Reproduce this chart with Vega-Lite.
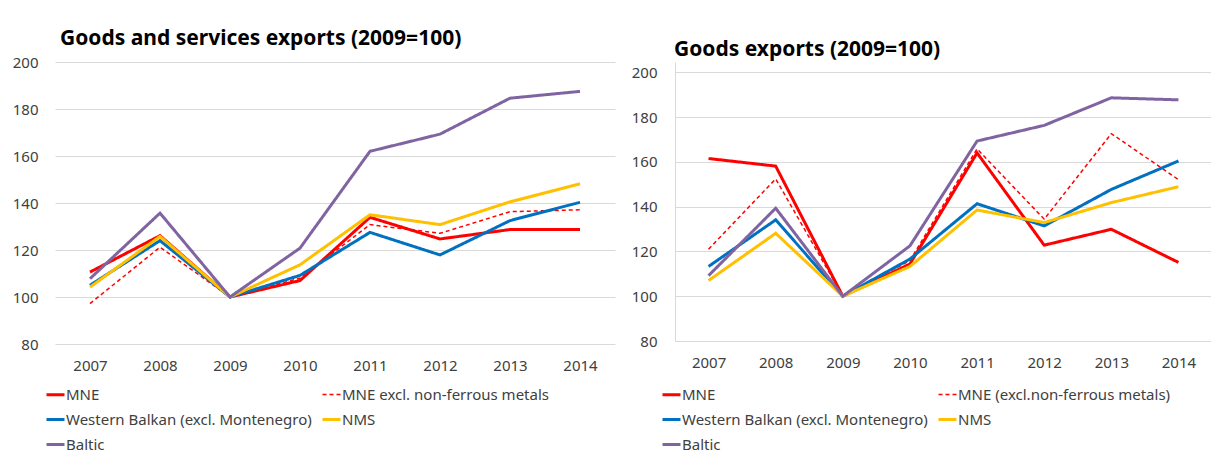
{
  "$schema": "https://vega.github.io/schema/vega-lite/v6.json",
  "background": "white",
  "padding": {"left": 12, "top": 28, "right": 0, "bottom": 0},
  "spacing": 16,
  "config": {
    "font": "Noto Sans",
    "view": {"stroke": null},
    "axis": {"labelFont": "Noto Sans", "labelFontSize": 15, "labelColor": "#404040", "ticks": false, "domain": false, "title": null, "gridColor": "#D9D9D9", "gridWidth": 1},
    "legend": {"labelFont": "Noto Sans", "labelFontSize": 15, "labelColor": "#404040", "labelLimit": 500, "title": null, "symbolType": "stroke", "symbolSize": 324, "rowPadding": 6, "columnPadding": 4, "labelOffset": 0, "columns": 2, "orient": "none"},
    "title": {"font": "Noto Sans", "fontSize": 21, "fontWeight": "bold", "color": "#000000", "anchor": "start", "frame": "group"}
  },
  "datasets": {
    "gs": [
      {"series": "MNE", "year": "2007", "value": 110.6},
      {"series": "MNE", "year": "2008", "value": 126.1},
      {"series": "MNE", "year": "2009", "value": 100},
      {"series": "MNE", "year": "2010", "value": 107},
      {"series": "MNE", "year": "2011", "value": 133.9},
      {"series": "MNE", "year": "2012", "value": 124.7},
      {"series": "MNE", "year": "2013", "value": 128.7},
      {"series": "MNE", "year": "2014", "value": 128.7},
      {"series": "MNE excl. non-ferrous metals", "year": "2007", "value": 97.2},
      {"series": "MNE excl. non-ferrous metals", "year": "2008", "value": 121.2},
      {"series": "MNE excl. non-ferrous metals", "year": "2009", "value": 100},
      {"series": "MNE excl. non-ferrous metals", "year": "2010", "value": 108},
      {"series": "MNE excl. non-ferrous metals", "year": "2011", "value": 130.8},
      {"series": "MNE excl. non-ferrous metals", "year": "2012", "value": 127.1},
      {"series": "MNE excl. non-ferrous metals", "year": "2013", "value": 136.3},
      {"series": "MNE excl. non-ferrous metals", "year": "2014", "value": 137.1},
      {"series": "Western Balkan (excl. Montenegro)", "year": "2007", "value": 105},
      {"series": "Western Balkan (excl. Montenegro)", "year": "2008", "value": 124},
      {"series": "Western Balkan (excl. Montenegro)", "year": "2009", "value": 100},
      {"series": "Western Balkan (excl. Montenegro)", "year": "2010", "value": 109.2},
      {"series": "Western Balkan (excl. Montenegro)", "year": "2011", "value": 127.5},
      {"series": "Western Balkan (excl. Montenegro)", "year": "2012", "value": 117.9},
      {"series": "Western Balkan (excl. Montenegro)", "year": "2013", "value": 132.5},
      {"series": "Western Balkan (excl. Montenegro)", "year": "2014", "value": 140.3},
      {"series": "NMS", "year": "2007", "value": 104.2},
      {"series": "NMS", "year": "2008", "value": 125.8},
      {"series": "NMS", "year": "2009", "value": 100},
      {"series": "NMS", "year": "2010", "value": 113.7},
      {"series": "NMS", "year": "2011", "value": 135},
      {"series": "NMS", "year": "2012", "value": 130.8},
      {"series": "NMS", "year": "2013", "value": 140.5},
      {"series": "NMS", "year": "2014", "value": 148.2},
      {"series": "Baltic", "year": "2007", "value": 107.8},
      {"series": "Baltic", "year": "2008", "value": 135.7},
      {"series": "Baltic", "year": "2009", "value": 100},
      {"series": "Baltic", "year": "2010", "value": 120.8},
      {"series": "Baltic", "year": "2011", "value": 162},
      {"series": "Baltic", "year": "2012", "value": 169.3},
      {"series": "Baltic", "year": "2013", "value": 184.6},
      {"series": "Baltic", "year": "2014", "value": 187.5}
    ],
    "g": [
      {"series": "MNE", "year": "2007", "value": 161.5},
      {"series": "MNE", "year": "2008", "value": 158.1},
      {"series": "MNE", "year": "2009", "value": 100},
      {"series": "MNE", "year": "2010", "value": 114.4},
      {"series": "MNE", "year": "2011", "value": 164},
      {"series": "MNE", "year": "2012", "value": 122.8},
      {"series": "MNE", "year": "2013", "value": 129.9},
      {"series": "MNE", "year": "2014", "value": 115.1},
      {"series": "MNE (excl.non-ferrous metals)", "year": "2007", "value": 121},
      {"series": "MNE (excl.non-ferrous metals)", "year": "2008", "value": 152.4},
      {"series": "MNE (excl.non-ferrous metals)", "year": "2009", "value": 100},
      {"series": "MNE (excl.non-ferrous metals)", "year": "2010", "value": 115.9},
      {"series": "MNE (excl.non-ferrous metals)", "year": "2011", "value": 165.8},
      {"series": "MNE (excl.non-ferrous metals)", "year": "2012", "value": 134.4},
      {"series": "MNE (excl.non-ferrous metals)", "year": "2013", "value": 172.6},
      {"series": "MNE (excl.non-ferrous metals)", "year": "2014", "value": 152.1},
      {"series": "Western Balkan (excl. Montenegro)", "year": "2007", "value": 113.3},
      {"series": "Western Balkan (excl. Montenegro)", "year": "2008", "value": 134.1},
      {"series": "Western Balkan (excl. Montenegro)", "year": "2009", "value": 100},
      {"series": "Western Balkan (excl. Montenegro)", "year": "2010", "value": 116.6},
      {"series": "Western Balkan (excl. Montenegro)", "year": "2011", "value": 141.3},
      {"series": "Western Balkan (excl. Montenegro)", "year": "2012", "value": 131.4},
      {"series": "Western Balkan (excl. Montenegro)", "year": "2013", "value": 147.7},
      {"series": "Western Balkan (excl. Montenegro)", "year": "2014", "value": 160.4},
      {"series": "NMS", "year": "2007", "value": 107},
      {"series": "NMS", "year": "2008", "value": 128.1},
      {"series": "NMS", "year": "2009", "value": 100},
      {"series": "NMS", "year": "2010", "value": 113.3},
      {"series": "NMS", "year": "2011", "value": 138.5},
      {"series": "NMS", "year": "2012", "value": 132.9},
      {"series": "NMS", "year": "2013", "value": 141.8},
      {"series": "NMS", "year": "2014", "value": 148.9},
      {"series": "Baltic", "year": "2007", "value": 109.2},
      {"series": "Baltic", "year": "2008", "value": 139.3},
      {"series": "Baltic", "year": "2009", "value": 100},
      {"series": "Baltic", "year": "2010", "value": 122.5},
      {"series": "Baltic", "year": "2011", "value": 169.3},
      {"series": "Baltic", "year": "2012", "value": 176.3},
      {"series": "Baltic", "year": "2013", "value": 188.6},
      {"series": "Baltic", "year": "2014", "value": 187.7}
    ]
  },
  "resolve": {
    "scale": {"color": "independent", "strokeDash": "independent", "strokeWidth": "independent", "y": "independent"},
    "legend": {"color": "independent", "strokeDash": "independent", "strokeWidth": "independent"}
  },
  "hconcat": [
    {
      "width": 560,
      "height": 282,
      "data": {"name": "gs"},
      "title": {"text": "Goods and services exports (2009=100)", "dx": 5, "offset": 6},
      "mark": {"type": "line"},
      "encoding": {
        "x": {"field": "year", "type": "ordinal", "axis": {"labelAngle": 0, "grid": false, "labelPadding": 14}},
        "y": {"field": "value", "type": "quantitative", "scale": {"domain": [80, 200], "nice": false}, "axis": {"values": [80, 100, 120, 140, 160, 180, 200], "labelPadding": 17}},
        "color": {
          "field": "series", "type": "nominal",
          "scale": {"domain": ["MNE", "Western Balkan (excl. Montenegro)", "Baltic", "MNE excl. non-ferrous metals", "NMS"], "range": ["#FF0000", "#0070C0", "#8064A2", "#FF0000", "#FFC000"]},
          "legend": {"legendX": -10, "legendY": 322}
        },
        "strokeDash": {
          "field": "series", "type": "nominal",
          "scale": {"domain": ["MNE", "Western Balkan (excl. Montenegro)", "Baltic", "MNE excl. non-ferrous metals", "NMS"], "range": [[1, 0], [1, 0], [1, 0], [4, 3], [1, 0]]},
          "legend": {"legendX": -10, "legendY": 322}
        },
        "strokeWidth": {
          "field": "series", "type": "nominal",
          "scale": {"type": "ordinal", "domain": ["MNE", "Western Balkan (excl. Montenegro)", "Baltic", "MNE excl. non-ferrous metals", "NMS"], "range": [3, 3, 3, 1.5, 3]},
          "legend": {"legendX": -10, "legendY": 322}
        }
      }
    },
    {
      "width": 537,
      "height": 279,
      "data": {"name": "g"},
      "title": {"text": "Goods exports (2009=100)", "dx": -1, "dy": 4, "offset": 6},
      "mark": {"type": "line"},
      "encoding": {
        "x": {"field": "year", "type": "ordinal", "axis": {"labelAngle": 0, "grid": false, "labelPadding": 14}},
        "y": {"field": "value", "type": "quantitative", "scale": {"domain": [80, 204.6], "nice": false}, "axis": {"values": [80, 100, 120, 140, 160, 180, 200], "labelPadding": 18, "domain": true, "domainColor": "#D9D9D9", "domainWidth": 1}},
        "color": {
          "field": "series", "type": "nominal",
          "scale": {"domain": ["MNE", "Western Balkan (excl. Montenegro)", "Baltic", "MNE (excl.non-ferrous metals)", "NMS"], "range": ["#FF0000", "#0070C0", "#8064A2", "#FF0000", "#FFC000"]},
          "legend": {"legendX": -14, "legendY": 322}
        },
        "strokeDash": {
          "field": "series", "type": "nominal",
          "scale": {"domain": ["MNE", "Western Balkan (excl. Montenegro)", "Baltic", "MNE (excl.non-ferrous metals)", "NMS"], "range": [[1, 0], [1, 0], [1, 0], [4, 3], [1, 0]]},
          "legend": {"legendX": -14, "legendY": 322}
        },
        "strokeWidth": {
          "field": "series", "type": "nominal",
          "scale": {"type": "ordinal", "domain": ["MNE", "Western Balkan (excl. Montenegro)", "Baltic", "MNE (excl.non-ferrous metals)", "NMS"], "range": [3, 3, 3, 1.5, 3]},
          "legend": {"legendX": -14, "legendY": 322}
        }
      }
    }
  ]
}
